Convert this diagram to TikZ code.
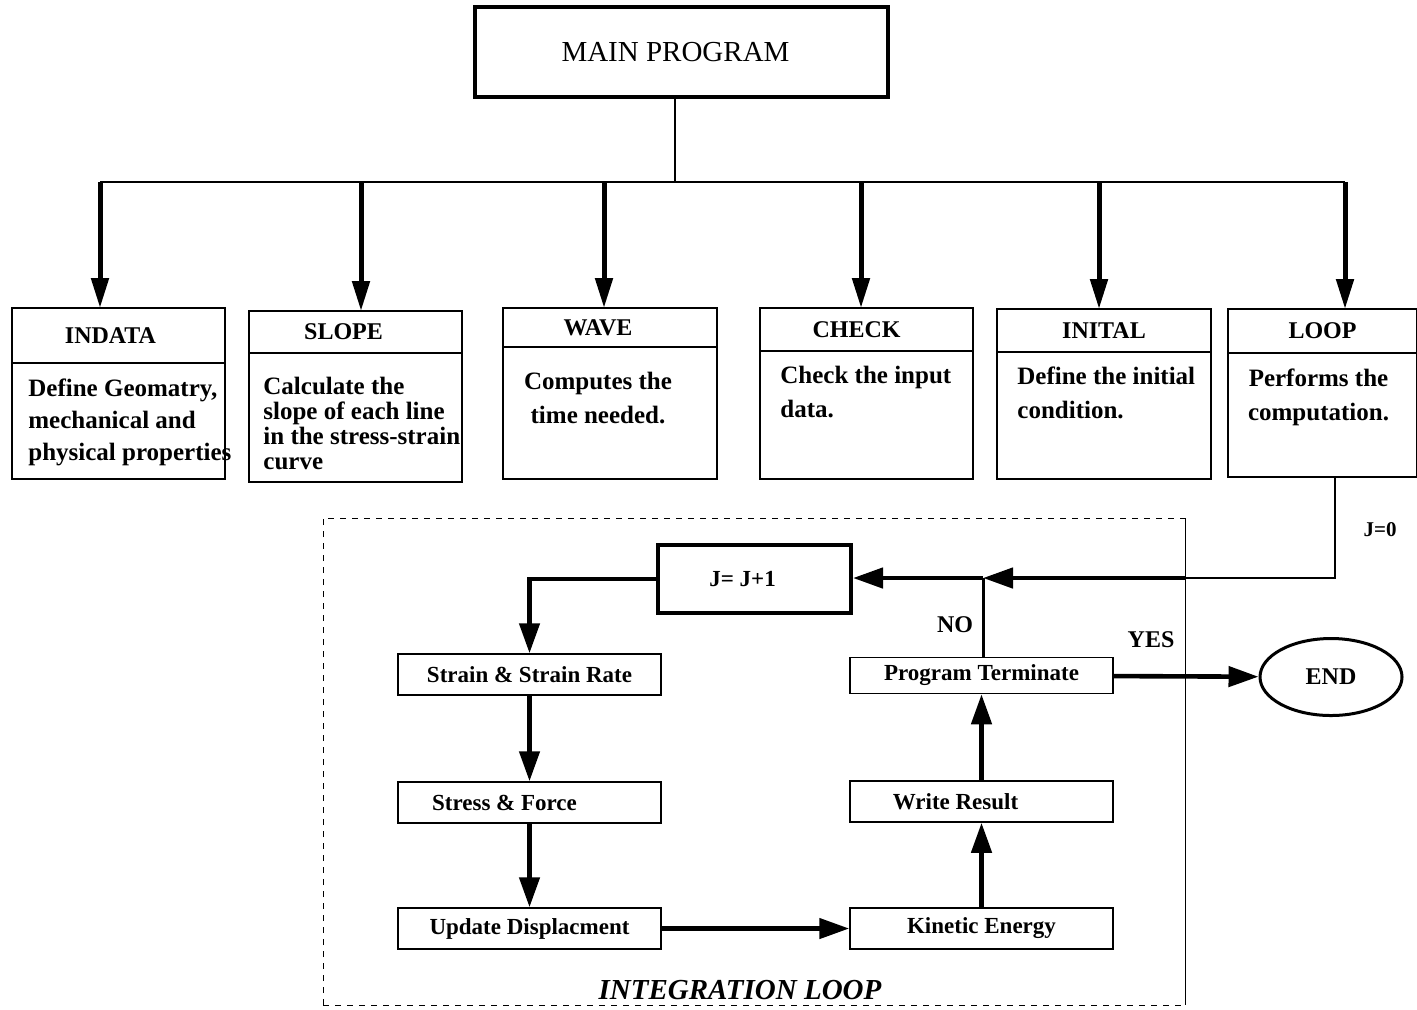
\documentclass[tikz,border=0pt]{standalone}
\usepackage{fontspec}
\setmainfont{Liberation Serif}
\usetikzlibrary{shapes,arrows,arrows.meta,positioning,calc}
\tikzstyle{head} = [rectangle, draw, line width=0.75pt, outer sep=0pt, inner sep=0pt, font=\fontsize{12}{14}\selectfont\bfseries]
\tikzstyle{body} = [rectangle, draw, line width=0.75pt, outer sep=0pt, inner sep=0pt]
\tikzstyle{txt} = [inner sep=0pt, font=\fontsize{12.5}{17}\selectfont\bfseries]
\tikzstyle{proc} = [rectangle, draw, line width=0.75pt, minimum width=131.5pt, minimum height=20.5pt, inner sep=0pt, font=\fontsize{11.5}{13}\selectfont\bfseries]
\tikzstyle{lbl} = [inner sep=0pt, font=\fontsize{12}{14}\selectfont\bfseries]
\tikzstyle{bus} = [draw, line width=2.5pt, -{Triangle[length=15pt, width=8.5pt]}]
\tikzstyle{line} = [draw, line width=2.3pt, -{Triangle[length=15pt, width=10pt]}]
\tikzstyle{wire} = [draw, line width=0.75pt]

\begin{document}
\begin{tikzpicture}[x=0.5pt, y=-0.5pt]
		\useasboundingbox (0,0) rectangle (1417,1009);
		
		% Main program
		\node[rectangle, draw, line width=1.8pt, minimum width=206.5pt, minimum height=45pt, font=\fontsize{14.5}{16}\selectfont](main) at (681.5,52) {MAIN PROGRAM\kern6pt};
		\coordinate (split) at (675,182);
		\coordinate (b1) at (100,182);
		\coordinate (b2) at (361,182);
		\coordinate (b3) at (604,182);
		\coordinate (b4) at (861,182);
		\coordinate (b5) at (1099,182);
		\coordinate (b6) at (1345,182);
		
		% Row 1: subroutines
		\node[head, minimum width=106.5pt, minimum height=27.5pt](indata) at (118.5,335.5) {INDATA\kern8pt};
		\node[body, below=0pt of indata, minimum width=106.5pt, minimum height=58pt](indatab) {};
		\node[txt, align=left, anchor=north west, font=\fontsize{12.5}{16}\selectfont\bfseries](indatat) at ($(indatab.north west)+(8pt,-7.5pt)$) {Define Geomatry,\\mechanical and\\physical properties};
		
		\node[head, minimum width=106.5pt, minimum height=21pt](slope) at (355.5,332) {SLOPE\kern12pt};
		\node[body, below=0pt of slope, minimum width=106.5pt, minimum height=64.5pt](slopeb) {};
		\node[txt, align=left, anchor=north west, font=\fontsize{12.5}{12.5}\selectfont\bfseries](slopet) at ($(slopeb.north west)+(7pt,-12pt)$) {Calculate the\\slope of each line\\in the stress-strain\\curve};
		
		\node[head, minimum width=107pt, minimum height=19.5pt](wave) at (610,327.5) {WAVE\kern12pt};
		\node[body, below=0pt of wave, minimum width=107pt, minimum height=66pt](waveb) {};
		\node[txt, align=center, anchor=north](wavet) at ($(waveb.north)+(-6pt,-12.5pt)$) {Computes the\\time needed.};
		
		\node[head, minimum width=106.5pt, minimum height=21.5pt](check) at (866.5,329.5) {CHECK\kern10pt};
		\node[body, below=0pt of check, minimum width=106.5pt, minimum height=64pt](checkb) {};
		\node[txt, align=left, anchor=north west](checkt) at ($(checkb.north west)+(10pt,-7.5pt)$) {Check the input\\data.};
		
		\node[head, minimum width=107pt, minimum height=21.5pt](inital) at (1104,330.5) {INITAL};
		\node[body, below=0pt of inital, minimum width=107pt, minimum height=63.5pt](initalb) {};
		\node[txt, align=left, anchor=north west](initalt) at ($(initalb.north west)+(10pt,-7pt)$) {Define the initial\\condition.};
		
		\node[head, minimum width=94.5pt, minimum height=22pt](loop) at (1322.5,331) {LOOP};
		\node[body, below=0pt of loop, minimum width=94.5pt, minimum height=62pt](loopb) {};
		\node[txt, align=center, anchor=north](loopt) at ($(loopb.north)+(-2pt,-7.5pt)$) {Performs the\\computation.};
		
		% Paths from main program
		\path [wire] (main.south -| split) -- (split);
		\path [wire] (b1) -- (b6);
		\path [bus] (b1) -- (b1 |- indata.north);
		\path [bus] (b2) -- (b2 |- slope.north);
		\path [bus] (b3) -- (b3 |- wave.north);
		\path [bus] (b4) -- (b4 |- check.north);
		\path [bus] (b5) -- (b5 |- inital.north);
		\path [bus] (b6) -- (b6 |- loop.north);
		
		% Integration loop frame
		\coordinate (fnw) at (323,518);
		\coordinate (fne) at (1185,518);
		\coordinate (fsw) at (323,1005);
		\coordinate (fse) at (1185,1005);
		\draw[dashed, line width=0.5pt] (fsw) -- (fnw) -- (fne);
		\draw[dashed, line width=0.5pt] (fsw) -- (fse);
		\draw[line width=0.5pt] (fne) -- (fse);
		\node[inner sep=0pt, font=\fontsize{14.5}{16}\selectfont\bfseries\itshape](intlabel) at (740,990) {INTEGRATION LOOP};
		
		% Row 2: loop steps
		\node[rectangle, draw, line width=2pt, minimum width=96.5pt, minimum height=34pt, font=\fontsize{11.5}{13}\selectfont\bfseries](jbox) at (754.5,579) {J= J+1\kern12pt};
		\node[proc](strain) at (529.5,674.5) {Strain \& Strain Rate};
		\node[proc, below of = strain, node distance = 64pt](stress) {Stress \& Force\kern25pt};
		\node[proc, below of = stress, node distance = 63pt](update) {Update Displacment};
		\node[proc, right of = update, node distance = 226pt](kinetic) {Kinetic Energy};
		\node[proc, above of = kinetic, node distance = 63.5pt](write) {Write Result\kern26pt};
		\node[proc, above of = write, node distance = 63pt, minimum height=18pt](term) {Program Terminate};
		\node[ellipse, draw, line width=1.5pt, minimum width=71pt, minimum height=38.5pt, inner sep=0pt, font=\fontsize{12}{14}\selectfont\bfseries](stop) at (1331,677) {END};
		
		% empty coordinates for the J=0 entry
		\coordinate (corner) at (1335,578);
		\coordinate (entry) at (1185,578);
		\coordinate (junc) at (983,578);
		
		% Paths
		\path [wire] (loopb.south -| corner) -- (corner) -- (entry);
		\node[lbl, font=\fontsize{10.5}{12}\selectfont\bfseries](jzero) at (1380,530) {J=0};
		\path [line] (entry) -- (junc);
		\path [line] (junc) -- (junc -| jbox.east);
		\path [draw, line width=1.5pt] (term.north -| junc) -- (junc);
		\path [line] (jbox.west) -| (strain.north);
		\path [line] (strain) -- (stress);
		\path [line] (stress) -- (update);
		\path [line] (update) -- (kinetic);
		\path [line] (kinetic) -- (write);
		\path [line] (write) -- (term);
		\path [line] (term) -- (stop);
		\node[lbl](no) at (955,625) {NO};
		\node[lbl](yes) at (1151,640) {YES};
		
	\end{tikzpicture}
\end{document}
